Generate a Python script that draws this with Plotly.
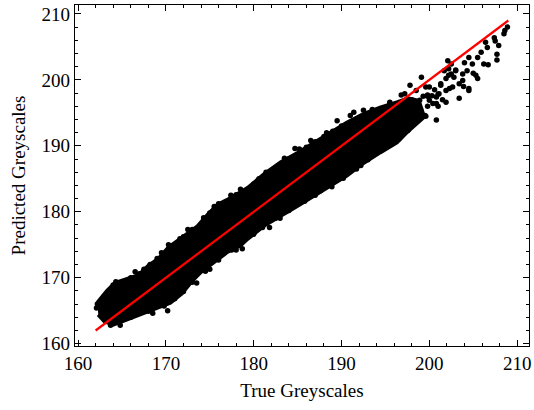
import plotly.graph_objects as go

# Dense core of the scatter cloud: upper and lower envelopes
band_upper_x = [162.2, 163.3, 164.2, 165.4, 166.9, 168.0, 169.1, 170.3, 171.4, 172.5, 173.6, 174.8,
                175.9, 177.4, 179.3, 181.2, 183.1, 185.0, 186.8, 188.7, 190.6, 192.5, 194.4, 196.3, 197.6, 198.8]
band_upper_y = [166.2, 168.0, 169.2, 169.8, 170.4, 171.8, 172.8, 174.6, 175.7, 176.8, 177.8, 179.6,
                181.1, 182.1, 183.6, 185.7, 187.5, 188.9, 190.4, 191.9, 193.5, 194.8, 195.8, 196.6, 197.2, 196.8]
band_lower_x = [162.3, 163.0, 164.0, 165.0, 167.2, 169.0, 170.5, 171.8, 172.9, 174.0, 175.5, 177.0,
                178.5, 179.3, 181.2, 183.1, 185.0, 186.8, 188.7, 190.6, 192.5, 194.4, 196.3, 197.4, 199.4]
band_lower_y = [164.4, 163.4, 162.9, 163.4, 164.6, 165.4, 166.2, 167.6, 169.4, 170.9, 172.4, 173.9,
                174.9, 175.9, 177.9, 179.4, 180.9, 182.4, 184.0, 185.5, 187.4, 189.0, 190.5, 192.0, 194.4]

# Individual points along the cloud edges and in the sparse upper end
pts_x = [163.5, 164.3, 165.0, 166.0, 167.0, 168.2, 169.0, 170.3, 171.0, 172.0, 173.0, 174.0, 175.0,
         176.0, 177.0, 178.0, 179.0, 180.0, 181.4, 182.0, 182.9, 184.0, 184.7, 186.0, 187.0, 188.0,
         189.0, 190.0, 191.4, 192.5, 193.5, 195.5,
         162.1, 162.2, 163.7, 164.8, 166.0, 168.0, 170.2, 171.0, 172.0, 173.0, 174.5, 176.0, 177.5,
         178.7, 180.0, 181.0, 182.5, 184.0, 185.5, 187.6, 188.9, 190.2, 191.7, 193.0, 194.6, 195.5,
         196.5, 197.5, 198.3,
         208.9, 208.5, 208.6, 207.4, 207.5, 207.9, 207.7, 207.7, 206.4, 206.6, 205.9, 206.2, 205.5,
         204.9, 205.5, 204.5, 204.0, 204.3, 203.8, 204.5, 203.4, 203.4, 202.8, 202.5, 202.1, 202.2,
         202.65, 201.9, 200.8, 201.3, 200.8, 199.1, 197.8, 197.2, 199.5, 200.4, 200.0, 202.2, 201.7,
         198.5, 198.9, 198.1, 206.7, 204.5, 199.6, 201.0, 199.8, 203.0, 205.0, 203.9,
         199.0, 199.8, 200.3, 201.0, 198.0, 197.5, 198.5, 199.3, 200.6, 201.5,
         196.8, 195.5, 199.8, 200.8, 201.9, 202.3, 201.3, 202.5, 203.0, 205.3, 203.8, 198.9, 198.1,
         197.6, 196.6, 200.0, 201.1, 198.5, 199.6, 201.9,
         166.5, 169.5, 172.5, 175.5, 178.5, 183.5, 186.5, 189.5, 169.8, 173.5, 178.0, 183.0, 187.0, 192.2,
         164.0, 167.5, 171.6, 174.3, 177.4, 180.6, 185.2, 188.3, 191.0, 168.5, 175.0, 181.8, 185.8, 189.8]
pts_y = [168.0, 169.4, 169.2, 170.0, 170.6, 172.0, 172.9, 175.0, 174.6, 176.2, 177.3, 178.0, 179.8,
         181.2, 181.2, 182.6, 183.0, 184.2, 186.0, 186.0, 187.1, 188.0, 189.6, 189.8, 190.6, 191.4,
         192.2, 193.0, 195.1, 195.4, 195.5, 196.6,
         165.4, 166.0, 162.8, 162.8, 164.0, 164.9, 165.0, 166.8, 167.9, 169.3, 171.0, 172.7, 174.2,
         174.4, 176.6, 177.6, 179.0, 180.2, 181.7, 183.2, 183.8, 185.1, 186.5, 187.9, 189.4, 190.2,
         191.0, 192.3, 193.4,
         208.0, 207.0, 207.5, 206.4, 205.9, 205.2, 203.9, 203.0, 205.7, 204.9, 204.2, 202.4, 203.4,
         202.4, 200.2, 203.4, 202.6, 201.4, 200.9, 198.4, 197.2, 199.4, 200.4, 202.4, 202.9, 201.7,
         198.9, 198.4, 197.4, 199.2, 193.9, 200.4, 199.2, 197.9, 194.6, 196.4, 198.9, 200.7, 201.4,
         198.4, 196.9, 195.9, 202.3, 198.7, 194.5, 196.0, 197.5, 201.5, 201.0, 199.0,
         195.5, 196.0, 197.6, 197.8, 197.0, 196.2, 195.0, 197.5, 198.5, 197.0,
         197.7, 196.4, 197.7, 196.4, 196.6, 198.7, 199.4, 200.9, 201.4, 200.7, 199.9, 194.9, 193.4,
         192.4, 192.1, 196.9, 197.9, 196.6, 198.9, 200.2,
         170.9, 173.8, 177.3, 180.8, 183.4, 188.1, 190.8, 193.8, 165.7, 169.2, 174.2, 179.0, 182.5, 187.0,
         168.9, 171.3, 175.9, 179.1, 182.5, 185.0, 189.5, 192.0, 194.6, 164.6, 171.3, 177.6, 181.6, 185.4]

ideal_x = [162.0, 209.0]
ideal_y = [162.0, 209.0]

x_ticks = [160, 170, 180, 190, 200, 210]
y_ticks = [160, 170, 180, 190, 200, 210]

font_family = "Liberation Serif, Times New Roman, serif"

fig = go.Figure()
fig.add_trace(go.Scatter(
    x=band_upper_x + band_lower_x[::-1],
    y=band_upper_y + band_lower_y[::-1],
    mode="lines", fill="toself", fillcolor="black",
    line=dict(color="black", width=4), hoverinfo="skip", showlegend=False))
fig.add_trace(go.Scatter(
    x=pts_x, y=pts_y, mode="markers",
    marker=dict(color="black", size=5.5, line=dict(width=0)), showlegend=False))
fig.add_trace(go.Scatter(
    x=ideal_x, y=ideal_y, mode="lines",
    line=dict(color="#ff0000", width=2.2), showlegend=False))

axis_common = dict(
    showgrid=False, zeroline=False, showline=True, linecolor="black", linewidth=1.2,
    mirror="allticks", ticks="inside", ticklen=6, tickwidth=1, tickcolor="black",
    minor=dict(ticks="inside", ticklen=3, tickwidth=1, tickcolor="black", dtick=2, showgrid=False),
    tickfont=dict(family=font_family, size=19, color="black"),
    automargin=False,
)

fig.update_layout(
    width=534, height=410,
    margin=dict(l=75, r=5, t=5, b=64, autoexpand=False),
    plot_bgcolor="white", paper_bgcolor="white",
    font=dict(family=font_family, size=19, color="black"),
    xaxis=dict(range=[159.65, 211.35], tickvals=x_ticks,
               title=dict(text="True Greyscales", font=dict(family=font_family, size=19), standoff=10),
               **axis_common),
    yaxis=dict(range=[159.65, 211.35], tickvals=y_ticks,
               title=dict(text="Predicted Greyscales", font=dict(family=font_family, size=19), standoff=10),
               **axis_common),
)

fig.write_html("out.html", config={"displayModeBar": False},
               post_script="document.body.style.margin='0';")
